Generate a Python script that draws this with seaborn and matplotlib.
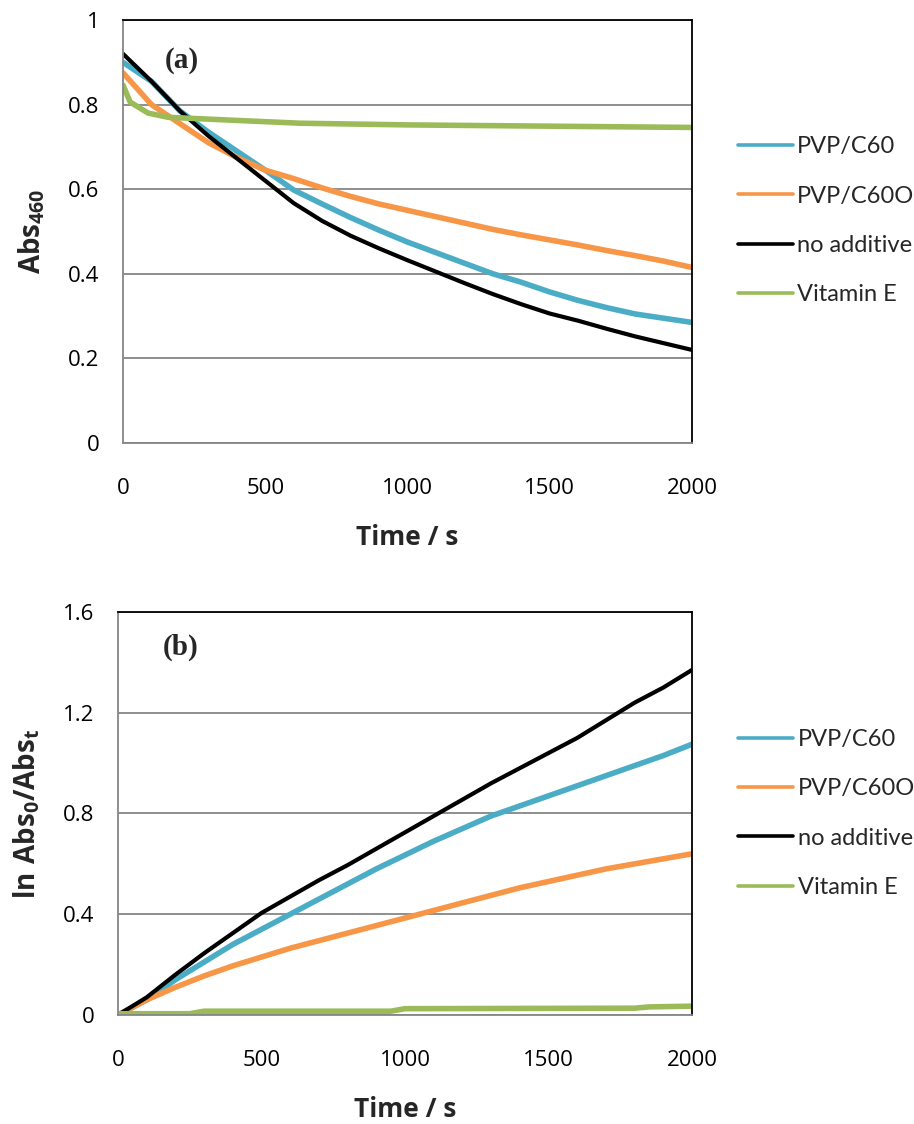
import numpy as np
import pandas as pd
import matplotlib
matplotlib.use("Agg")
import matplotlib.pyplot as plt
import seaborn as sns

# ---- data ----
time_s = [0, 100, 200, 300, 400, 500, 600, 700, 800, 900, 1000,
          1100, 1200, 1300, 1400, 1500, 1600, 1700, 1800, 1900, 2000]
series_names = ["PVP/C60", "PVP/C60O", "no additive", "Vitamin E"]

abs_pvp_c60 = [0.90, 0.855, 0.785, 0.735, 0.69, 0.645, 0.598, 0.565, 0.533, 0.503, 0.475,
               0.45, 0.425, 0.40, 0.38, 0.357, 0.337, 0.32, 0.305, 0.295, 0.285]
abs_pvp_c60o = [0.875, 0.80, 0.755, 0.71, 0.675, 0.645, 0.625, 0.603, 0.583, 0.565, 0.55,
                0.535, 0.52, 0.505, 0.492, 0.48, 0.468, 0.455, 0.443, 0.43, 0.415]
abs_none = [0.92, 0.855, 0.785, 0.726, 0.673, 0.62, 0.567, 0.525, 0.49, 0.46, 0.432,
            0.405, 0.378, 0.352, 0.328, 0.306, 0.289, 0.27, 0.252, 0.236, 0.22]
time_vite = [0, 25, 88, 158, 387, 622, 1000, 1500, 2000]
abs_vite = [0.846, 0.806, 0.78, 0.77, 0.763, 0.756, 0.752, 0.749, 0.746]

ln_pvp_c60 = [0.0, 0.06, 0.14, 0.21, 0.28, 0.34, 0.40, 0.46, 0.52, 0.58, 0.635,
              0.69, 0.74, 0.79, 0.83, 0.87, 0.91, 0.95, 0.99, 1.03, 1.075]
ln_pvp_c60o = [0.0, 0.06, 0.11, 0.155, 0.195, 0.23, 0.265, 0.295, 0.325, 0.355, 0.385,
               0.415, 0.445, 0.475, 0.505, 0.53, 0.555, 0.58, 0.60, 0.62, 0.64]
ln_none = [0.0, 0.07, 0.16, 0.245, 0.325, 0.405, 0.47, 0.535, 0.595, 0.66, 0.725,
           0.79, 0.855, 0.92, 0.98, 1.04, 1.10, 1.17, 1.24, 1.30, 1.37]
time_vite_ln = [0, 250, 300, 950, 1000, 1800, 1850, 2000]
ln_vite = [0.005, 0.005, 0.015, 0.015, 0.025, 0.027, 0.032, 0.035]

colors = {"PVP/C60": "#4BACC6", "PVP/C60O": "#F79646",
          "no additive": "#000000", "Vitamin E": "#9BBB59"}
widths = {"PVP/C60": 4.0, "PVP/C60O": 4.0, "no additive": 3.0, "Vitamin E": 4.0}

sns.set_style("white")
plt.rcParams["font.family"] = ["Open Sans", "DejaVu Sans"]
plt.rcParams["mathtext.fontset"] = "custom"
plt.rcParams["mathtext.rm"] = "Open Sans"
plt.rcParams["mathtext.bf"] = "Open Sans:bold"

def long_df(ts_list, ys_list):
    frames = []
    for name, ts, ys in zip(series_names, ts_list, ys_list):
        frames.append(pd.DataFrame({"Time": ts, "Value": ys, "Series": name}))
    return frames

top_frames = long_df([time_s, time_s, time_s, time_vite],
                     [abs_pvp_c60, abs_pvp_c60o, abs_none, abs_vite])
bot_frames = long_df([time_s, time_s, time_s, time_vite_ln],
                     [ln_pvp_c60, ln_pvp_c60o, ln_none, ln_vite])

fig = plt.figure(figsize=(9.14, 11.24), dpi=100)
ax1 = fig.add_axes([0.1346, 0.6059, 0.6225, 0.3763])
ax2 = fig.add_axes([0.1291, 0.0970, 0.6280, 0.3585])

grid_gray = "#868686"
tick_fs = 16

def style_axes(ax, ymax, ystep, ylabel, panel, panel_xy, leg_y):
    ax.set_xlim(0, 2000)
    ax.set_ylim(0, ymax)
    ax.set_xticks([0, 500, 1000, 1500, 2000])
    yt = np.round(np.arange(0, ymax + 1e-9, ystep), 2)
    ax.set_yticks(yt)
    ax.set_yticklabels([("%g" % v) for v in yt])
    ax.yaxis.grid(True, color=grid_gray, linewidth=1.3)
    ax.xaxis.grid(False)
    ax.set_axisbelow(True)
    for s in ["left", "bottom"]:
        ax.spines[s].set_color(grid_gray)
        ax.spines[s].set_linewidth(1.3)
    for s in ["top", "right"]:
        ax.spines[s].set_color("black")
        ax.spines[s].set_linewidth(1.3)
        ax.spines[s].set_visible(True)
    ax.tick_params(axis="both", which="major", direction="out", length=6,
                   width=1.3, color=grid_gray, labelsize=tick_fs, labelcolor="black")
    ax.tick_params(axis="x", pad=19)
    ax.tick_params(axis="y", pad=11)
    ax.set_xlabel("Time / s", fontsize=19, fontweight="bold", labelpad=18)
    ax.set_ylabel(ylabel, fontsize=20, labelpad=15)
    ax.text(panel_xy[0], panel_xy[1], panel, transform=ax.transAxes,
            fontsize=21, fontweight="bold", family="Liberation Serif",
            va="center", ha="left")
    leg = ax.legend(loc="center left", bbox_to_anchor=(1.044, leg_y), frameon=False,
                    prop={"family": ["Lato", "DejaVu Sans"], "size": 17},
                    labelspacing=1.2, handlelength=2.3, handletextpad=0.2)
    for line in leg.get_lines():
        line.set_linewidth(2.6)

for ax, frames in [(ax1, top_frames), (ax2, bot_frames)]:
    for fr in frames:
        name = fr["Series"].iloc[0]
        sns.lineplot(data=fr, x="Time", y="Value", ax=ax, color=colors[name],
                     linewidth=widths[name], label=name, estimator=None)

style_axes(ax1, 1.0, 0.2, r"$\mathbf{Abs_{460}}$", "(a)", (0.074, 0.905), 0.525)
style_axes(ax2, 1.6, 0.4, r"$\mathbf{ln\ Abs_0/Abs_t}$", "(b)", (0.078, 0.913), 0.5)

fig.savefig("out.png", dpi=100, facecolor="white")
